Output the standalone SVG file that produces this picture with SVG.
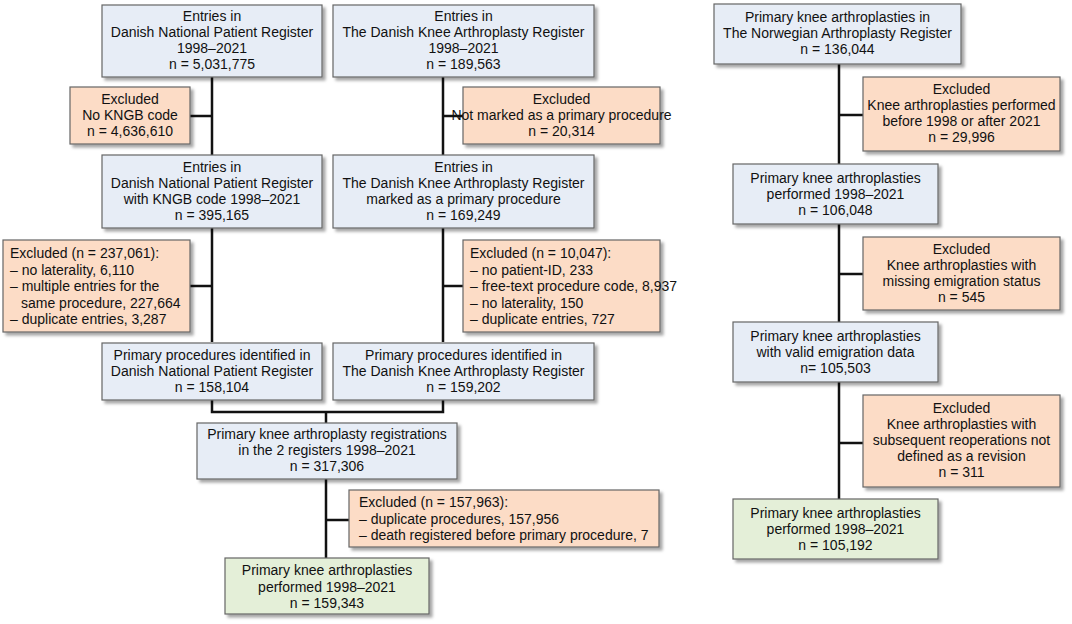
<svg xmlns="http://www.w3.org/2000/svg" width="1072" height="624" viewBox="0 0 1072 624">
<defs><filter id="sh" x="-10%" y="-10%" width="130%" height="140%"><feDropShadow dx="3" dy="3" stdDeviation="1.5" flood-color="#000" flood-opacity="0.35"/></filter></defs>
<style>
rect{stroke:#666;stroke-width:1.2;filter:url(#sh)}
.b{fill:#e7edf6}.o{fill:#fcdcc6}.g{fill:#e4efd8}
text{font-family:"Liberation Sans",Arial,sans-serif;font-size:14px;fill:#111}
.c{text-anchor:middle}
#connectors path{stroke:#111;stroke-width:2.5;fill:none}
</style>
<rect width="1072" height="624" fill="#fff" style="stroke:none;filter:none"/>
<g id="connectors">
<path d="M212 77V342M190 116H212M190 286H212"/>
<path d="M443 77V342M463 116H443M463 286H443"/>
<path d="M212 398V412H443V398M326 412V423"/>
<path d="M326 479V558M349 520H326"/>
<path d="M839 64V499M863 115H839M863 274H839M863 443H839"/>
</g>
<g id="a1"><rect class="b" x="102" y="5" width="220" height="72"/><text class="c" x="212" y="21">Entries in<tspan x="212" dy="16">Danish National Patient Register</tspan><tspan x="212" dy="16">1998–2021</tspan><tspan x="212" dy="16">n = 5,031,775</tspan></text></g>
<g id="b1"><rect class="b" x="333" y="5" width="261" height="72"/><text class="c" x="463.5" y="21">Entries in<tspan x="463.5" dy="16">The Danish Knee Arthroplasty Register</tspan><tspan x="463.5" dy="16">1998–2021</tspan><tspan x="463.5" dy="16">n = 189,563</tspan></text></g>
<g id="ea1"><rect class="o" x="70" y="87" width="120" height="57"/><text class="c" x="130" y="104">Excluded<tspan x="130" dy="16">No KNGB code</tspan><tspan x="130" dy="16">n = 4,636,610</tspan></text></g>
<g id="eb1"><rect class="o" x="463" y="87" width="197" height="57"/><text class="c" x="561.5" y="104">Excluded<tspan x="561.5" dy="16">Not marked as a primary procedure</tspan><tspan x="561.5" dy="16">n = 20,314</tspan></text></g>
<g id="a2"><rect class="b" x="102" y="155" width="220" height="73"/><text class="c" x="212" y="172">Entries in<tspan x="212" dy="16">Danish National Patient Register</tspan><tspan x="212" dy="16">with KNGB code 1998–2021</tspan><tspan x="212" dy="16">n = 395,165</tspan></text></g>
<g id="b2"><rect class="b" x="333" y="155" width="261" height="73"/><text class="c" x="463.5" y="172">Entries in<tspan x="463.5" dy="16">The Danish Knee Arthroplasty Register</tspan><tspan x="463.5" dy="16">marked as a primary procedure</tspan><tspan x="463.5" dy="16">n = 169,249</tspan></text></g>
<g id="ea2"><rect class="o" x="3" y="240" width="187" height="92"/><text x="10" y="258">Excluded (n = 237,061):<tspan x="10" dy="16.5">– no laterality, 6,110</tspan><tspan x="10" dy="16.5">– multiple entries for the</tspan><tspan x="21" dy="16.5">same procedure, 227,664</tspan><tspan x="10" dy="16.5">– duplicate entries, 3,287</tspan></text></g>
<g id="eb2"><rect class="o" x="463" y="240" width="197" height="92"/><text x="470" y="258">Excluded (n = 10,047):<tspan x="470" dy="16.5">– no patient-ID, 233</tspan><tspan x="470" dy="16.5">– free-text procedure code, 8,937</tspan><tspan x="470" dy="16.5">– no laterality, 150</tspan><tspan x="470" dy="16.5">– duplicate entries, 727</tspan></text></g>
<g id="a3"><rect class="b" x="102" y="343" width="220" height="57"/><text class="c" x="212" y="360">Primary procedures identified in<tspan x="212" dy="16">Danish National Patient Register</tspan><tspan x="212" dy="16">n = 158,104</tspan></text></g>
<g id="b3"><rect class="b" x="333" y="343" width="261" height="57"/><text class="c" x="463.5" y="360">Primary procedures identified in<tspan x="463.5" dy="16">The Danish Knee Arthroplasty Register</tspan><tspan x="463.5" dy="16">n = 159,202</tspan></text></g>
<g id="c"><rect class="b" x="197" y="423" width="260" height="56"/><text class="c" x="327" y="439">Primary knee arthroplasty registrations<tspan x="327" dy="16">in the 2 registers 1998–2021</tspan><tspan x="327" dy="16">n = 317,306</tspan></text></g>
<g id="ec"><rect class="o" x="349" y="490" width="310" height="57"/><text x="359" y="507">Excluded (n = 157,963):<tspan x="359" dy="16.5">– duplicate procedures, 157,956</tspan><tspan x="359" dy="16.5">– death registered before primary procedure, 7</tspan></text></g>
<g id="d"><rect class="g" x="225" y="558" width="204" height="56"/><text class="c" x="327" y="575">Primary knee arthroplasties<tspan x="327" dy="16.5">performed 1998–2021</tspan><tspan x="327" dy="16.5">n = 159,343</tspan></text></g>
<g id="n1"><rect class="b" x="714" y="4" width="247" height="60"/><text class="c" x="837.5" y="22">Primary knee arthroplasties in<tspan x="837.5" dy="16">The Norwegian Arthroplasty Register</tspan><tspan x="837.5" dy="16">n = 136,044</tspan></text></g>
<g id="en1"><rect class="o" x="863" y="77" width="197" height="74"/><text class="c" x="961.5" y="94">Excluded<tspan x="961.5" dy="16">Knee arthroplasties performed</tspan><tspan x="961.5" dy="16">before 1998 or after 2021</tspan><tspan x="961.5" dy="16">n = 29,996</tspan></text></g>
<g id="n2"><rect class="b" x="733" y="164" width="205" height="60"/><text class="c" x="835.5" y="183">Primary knee arthroplasties<tspan x="835.5" dy="16">performed 1998–2021</tspan><tspan x="835.5" dy="16">n = 106,048</tspan></text></g>
<g id="en2"><rect class="o" x="863" y="237" width="197" height="73"/><text class="c" x="961.5" y="254">Excluded<tspan x="961.5" dy="16">Knee arthroplasties with</tspan><tspan x="961.5" dy="16">missing emigration status</tspan><tspan x="961.5" dy="16">n = 545</tspan></text></g>
<g id="n3"><rect class="b" x="733" y="322" width="205" height="60"/><text class="c" x="835.5" y="341">Primary knee arthroplasties<tspan x="835.5" dy="16">with valid emigration data</tspan><tspan x="835.5" dy="16">n= 105,503</tspan></text></g>
<g id="en3"><rect class="o" x="863" y="395" width="197" height="92"/><text class="c" x="961.5" y="413">Excluded<tspan x="961.5" dy="16">Knee arthroplasties with</tspan><tspan x="961.5" dy="16">subsequent reoperations not</tspan><tspan x="961.5" dy="16">defined as a revision</tspan><tspan x="961.5" dy="16">n = 311</tspan></text></g>
<g id="n4"><rect class="g" x="733" y="499" width="205" height="60"/><text class="c" x="835.5" y="518">Primary knee arthroplasties<tspan x="835.5" dy="16">performed 1998–2021</tspan><tspan x="835.5" dy="16">n = 105,192</tspan></text></g>
</svg>
